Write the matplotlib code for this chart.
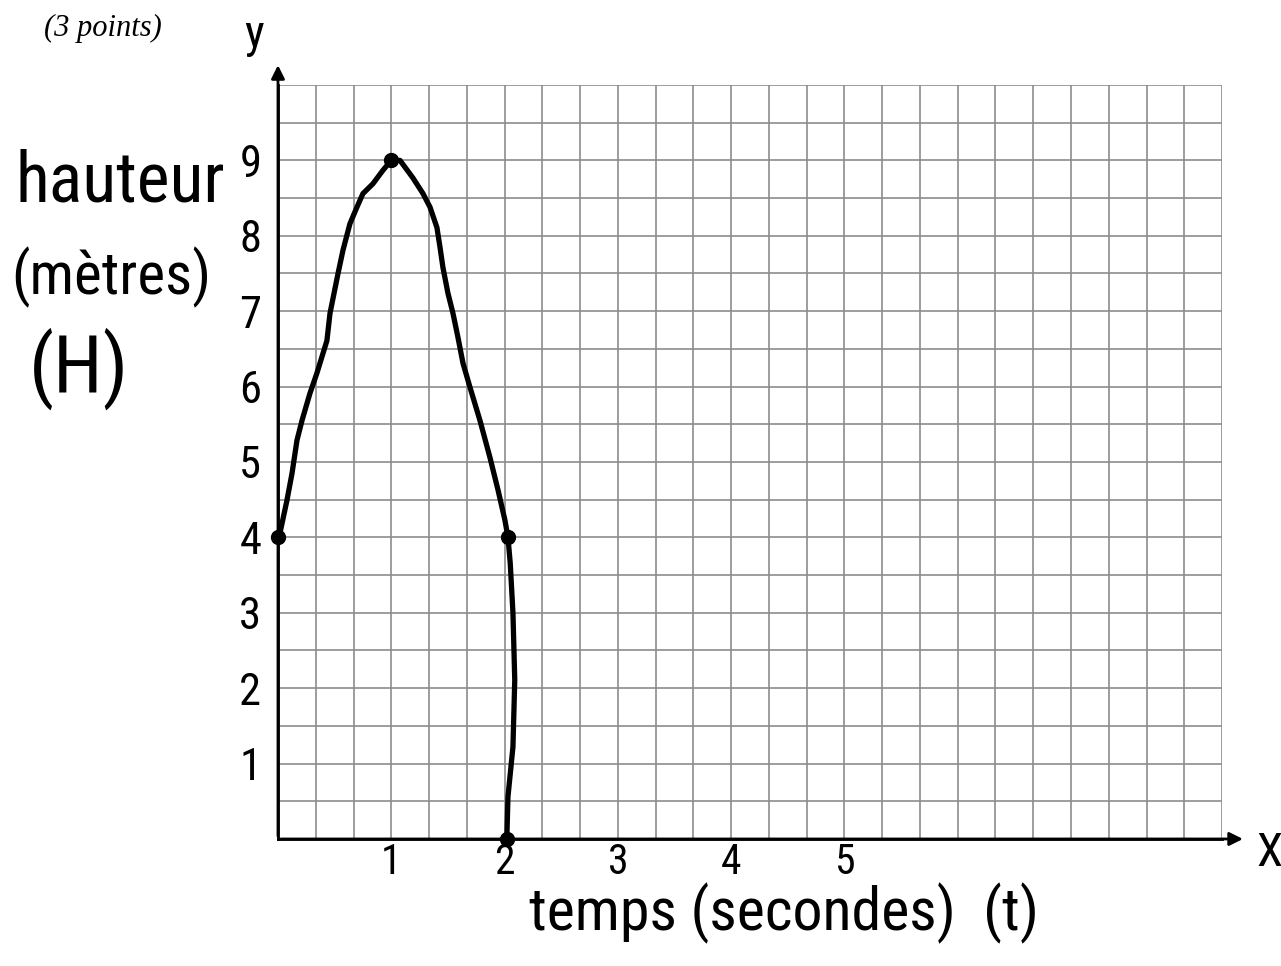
import matplotlib
matplotlib.use('Agg')
import matplotlib.pyplot as plt
from matplotlib import font_manager
from matplotlib.font_manager import FontProperties
import numpy as np

# hand-traced height curve: t in seconds, H in metres
t_curve = [0.0, 0.018, 0.079, 0.124, 0.168, 0.212, 0.282, 0.344, 0.432, 0.459,
           0.53, 0.574, 0.635, 0.697, 0.75, 0.838, 0.927, 1.0,
           1.077, 1.19, 1.28, 1.342, 1.403, 1.43, 1.456, 1.5, 1.545, 1.589,
           1.633, 1.695, 1.783, 1.871, 1.942, 2.003, 2.03,
           2.05, 2.074, 2.09, 2.074, 2.03, 2.02]
h_curve = [4.0, 4.06, 4.49, 4.85, 5.29, 5.55, 5.91, 6.18, 6.61, 6.97,
           7.5, 7.81, 8.16, 8.38, 8.56, 8.69, 8.87, 9.0,
           9.0, 8.77, 8.56, 8.38, 8.11, 7.85, 7.58, 7.24, 6.97, 6.65,
           6.31, 5.99, 5.55, 5.06, 4.63, 4.23, 4.0,
           3.66, 3.0, 2.11, 1.22, 0.56, 0.0]

# marked points
t_pts = [0.0, 1.0, 2.03, 2.02]
h_pts = [4.0, 9.0, 4.0, 0.0]

x_ticks = [1, 2, 3, 4, 5]
y_ticks = [1, 2, 3, 4, 5, 6, 7, 8, 9]


def narrow_font():
    names = {f.name for f in font_manager.fontManager.ttflist}
    for fam in ['Liberation Sans Narrow', 'Roboto Condensed', 'Open Sans Condensed']:
        if fam in names:
            return dict(family=fam)
    path = font_manager.findfont(FontProperties(family='DejaVu Sans', stretch='condensed'))
    if 'Condensed' in path:
        return dict(family='DejaVu Sans', stretch='condensed')
    return dict(family='DejaVu Sans')


hand = narrow_font()

fig = plt.figure(figsize=(12.81, 9.66), dpi=100)
ax = fig.add_axes([0.217, 0.1315, 0.737, 0.7805])

ax.set_xlim(0, 25 / 3)
ax.set_ylim(0, 10)

# graph paper: 1/3 s per column, 0.5 m per row
ax.set_xticks(np.arange(0, 25 / 3 + 0.01, 1 / 3), minor=True)
ax.set_yticks(np.arange(0, 10.01, 0.5), minor=True)
ax.grid(which='both', color='#8c8c8c', linewidth=1.2)
ax.tick_params(which='both', length=0)

ax.set_xticks(x_ticks)
ax.set_xticklabels([str(v) for v in x_ticks], fontsize=30, **hand)
ax.set_yticks(y_ticks)
ax.set_yticklabels([str(v) for v in y_ticks], fontsize=32, **hand)
ax.tick_params(axis='x', pad=2)
ax.tick_params(axis='y', pad=12)

for s in ['top', 'right']:
    ax.spines[s].set_visible(False)
for s in ['left', 'bottom']:
    ax.spines[s].set_linewidth(2)

ax.annotate('', xy=(0, 1.03), xytext=(0, 0), xycoords='axes fraction',
            arrowprops=dict(arrowstyle='-|>', color='black', lw=2, mutation_scale=20))
ax.annotate('', xy=(1.025, 0), xytext=(0, 0), xycoords='axes fraction',
            arrowprops=dict(arrowstyle='-|>', color='black', lw=2, mutation_scale=20))

ax.plot(t_curve, h_curve, color='black', linewidth=3.8, solid_capstyle='round',
        solid_joinstyle='round', clip_on=False, zorder=5)
ax.plot(t_pts, h_pts, 'o', color='black', markersize=10, clip_on=False, zorder=6)

fig.text(0.080, 0.971, '(3 points)', fontsize=22, style='italic',
         family='Liberation Serif', ha='center', va='center')
fig.text(0.198, 0.964, 'y', fontsize=34, ha='center', va='center', **hand)
fig.text(0.991, 0.117, 'X', fontsize=34, ha='center', va='center', **hand)

labels = [
    (fig.text(0.094, 0.812, 'hauteur', fontsize=60, ha='center', va='center', **hand), 210),
    (fig.text(0.087, 0.713, '(mètres)', fontsize=50, ha='center', va='center', **hand), 200),
    (fig.text(0.062, 0.618, '(H)', fontsize=50, ha='center', va='center', **hand), 100),
    (fig.text(0.612, 0.055, 'temps (secondes)  (t)', fontsize=40, ha='center', va='center',
              **hand), 510),
]

# scale the big titles so each spans its width in pixels
fig.canvas.draw()
renderer = fig.canvas.get_renderer()
for txt, width_px in labels:
    w = txt.get_window_extent(renderer).width
    txt.set_fontsize(txt.get_fontsize() * width_px / w)

fig.savefig('out.png', dpi=100)
